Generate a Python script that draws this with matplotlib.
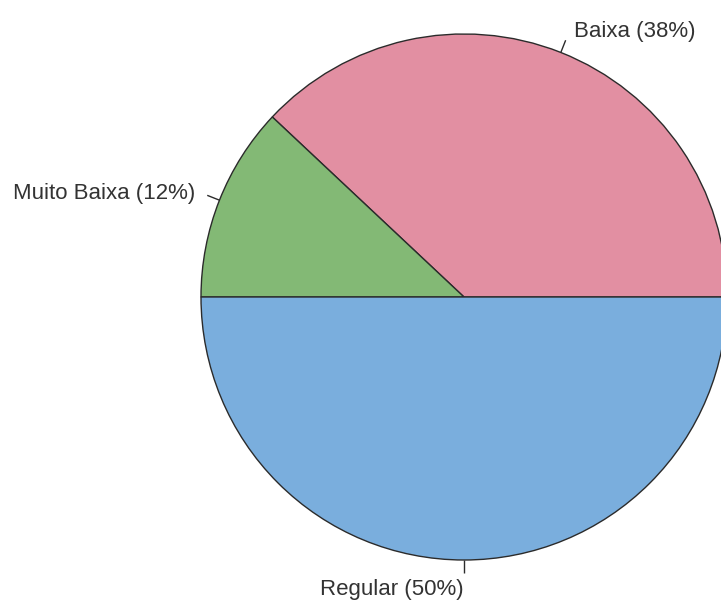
import numpy as np
import matplotlib
matplotlib.use("Agg")
import matplotlib.pyplot as plt

categories = ["Baixa", "Muito Baixa", "Regular"]
shares = [38, 12, 50]
colors = ["#E28FA2", "#83B975", "#7AAEDD"]

W, H = 721, 603
cx, cy, r = 464, H - 297, 263

plt.rcParams["font.family"] = ["Liberation Sans", "DejaVu Sans"]

fig = plt.figure(figsize=(W / 100, H / 100), dpi=100)
ax = fig.add_axes([0, 0, 1, 1])

ax.pie(shares, colors=colors, startangle=0, counterclock=True,
       center=(cx, cy), radius=r, frame=True,
       wedgeprops=dict(edgecolor="#2b2b2b", linewidth=1.0))
ax.set_xlim(0, W)
ax.set_ylim(0, H)
ax.axis("off")

# R-style labels: tick from 1.0r to 1.05r, text at 1.1r
total = sum(shares)
start = 0.0
for cat, val in zip(categories, shares):
    frac = val / total
    mid = 2 * np.pi * (start + frac / 2)
    start += frac
    c, s = np.cos(mid), np.sin(mid)
    ax.plot([cx + r * c, cx + 1.05 * r * c], [cy + r * s, cy + 1.05 * r * s],
            color="#2b2b2b", lw=1.0, solid_capstyle="butt")
    ha = "left" if c > 1e-6 else "right"
    dx = 4 if ha == "left" else 0
    ax.text(cx + 1.1 * r * c + dx, cy + 1.1 * r * s - 3,
            f"{cat} ({val}%)", ha=ha, va="center", fontsize=16, color="#333333")

fig.savefig("out.png", dpi=100, facecolor="white")
